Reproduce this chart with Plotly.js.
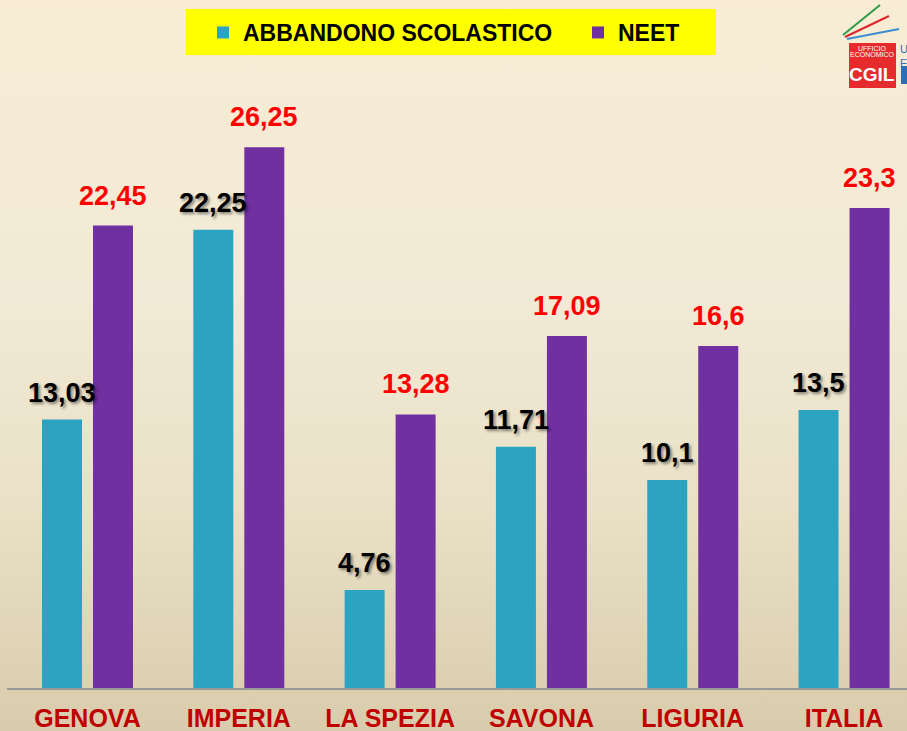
<!DOCTYPE html>
<html>
<head>
<meta charset="utf-8">
<script src="https://cdn.plot.ly/plotly-3.0.1.min.js"></script>
<style>
  html, body { margin: 0; padding: 0; }
  body { width: 907px; height: 731px; overflow: hidden;
    background: linear-gradient(to bottom, #F8ECD4 0%, #F2EAD6 40%, #E9E0C6 70%, #D9CCAC 100%); }
  #chart { width: 907px; height: 731px; }
</style>
</head>
<body>
<div id="chart"></div>
<script>
// ---- data ----
const categories = ["GENOVA", "IMPERIA", "LA SPEZIA", "SAVONA", "LIGURIA", "ITALIA"];
const abbandono = [13.03, 22.25, 4.76, 11.71, 10.1, 13.5];
const neet = [22.45, 26.25, 13.28, 17.09, 16.6, 23.3];
const seriesNames = ["ABBANDONO SCOLASTICO", "NEET"];

// ---- layout helpers (pixel -> paper) ----
const W = 907, H = 731, ML = 7, MB = 43, MT = 0, MR = 0;
const PW = W - ML - MR, PH = H - MT - MB;
const px = x => (x - ML) / PW;
const py = y => (H - MB - y) / PH;

const fmt = v => String(v).replace('.', ',');
const labelFont = (c, sh) => ({family: "Liberation Sans, Arial, sans-serif", size: 27, weight: "bold", color: c, shadow: sh});
const legendFont = {family: "Liberation Sans, Arial, sans-serif", size: 23, weight: "bold", color: "#000000"};

const traces = [
  {type: "bar", name: seriesNames[0], x: categories, y: abbandono,
   marker: {color: "#2CA3C1"}, hoverinfo: "skip", legend: "legend"},
  {type: "bar", name: seriesNames[1], x: categories, y: neet,
   marker: {color: "#7030A0"}, hoverinfo: "skip", legend: "legend2"}
];

const annotations = [];
categories.forEach((c, i) => {
  annotations.push({x: c, y: abbandono[i], xref: "x", yref: "y", text: fmt(abbandono[i]),
    showarrow: false, xshift: -25.5, yshift: 27, yanchor: "middle",
    font: labelFont("#000000", "2px 2px 3px rgba(0,0,0,0.45)")});
  annotations.push({x: c, y: neet[i], xref: "x", yref: "y", text: fmt(neet[i]),
    showarrow: false, xshift: 25.5, yshift: 30, yanchor: "middle",
    font: labelFont("#FF0000", "none")});
});

// logo texts
annotations.push({xref: "paper", yref: "paper", x: px(872), y: py(48), text: "UFFICIO",
  showarrow: false, font: {family: "Liberation Sans, sans-serif", size: 7, color: "#ffffff"}, xanchor: "center", yanchor: "middle"});
annotations.push({xref: "paper", yref: "paper", x: px(872), y: py(54), text: "ECONOMICO",
  showarrow: false, font: {family: "Liberation Sans, sans-serif", size: 7, color: "#ffffff"}, xanchor: "center", yanchor: "middle"});
annotations.push({xref: "paper", yref: "paper", x: px(872), y: py(75), text: "CGIL",
  showarrow: false, font: {family: "Liberation Sans, sans-serif", size: 19, weight: "bold", color: "#ffffff"}, xanchor: "center", yanchor: "middle"});
annotations.push({xref: "paper", yref: "paper", x: px(898), y: py(56), text: "U<br>E",
  showarrow: false, font: {family: "Liberation Sans, sans-serif", size: 11, color: "#2F6DB5"}, xanchor: "left", yanchor: "middle", align: "left"});

const shapes = [
  {type: "rect", xref: "paper", yref: "paper", x0: px(186), x1: px(716), y0: py(55), y1: py(9),
   fillcolor: "#FFFF00", line: {width: 0}, layer: "below"},
  {type: "rect", xref: "paper", yref: "paper", x0: px(849), x1: px(896), y0: py(88), y1: py(43),
   fillcolor: "#E52B2B", line: {width: 0}},
  {type: "rect", xref: "paper", yref: "paper", x0: px(901), x1: px(908), y0: py(84), y1: py(66),
   fillcolor: "#2F6DB5", line: {width: 0}},
  {type: "line", xref: "paper", yref: "paper", x0: px(843), y0: py(35), x1: px(880), y1: py(5),
   line: {color: "#2E9B4A", width: 2}},
  {type: "line", xref: "paper", yref: "paper", x0: px(845), y0: py(37), x1: px(889), y1: py(16),
   line: {color: "#E0262B", width: 2}},
  {type: "line", xref: "paper", yref: "paper", x0: px(847), y0: py(39), x1: px(899), y1: py(29),
   line: {color: "#3C8DD0", width: 2}}
];

const layout = {
  width: W, height: H,
  margin: {l: ML, r: MR, t: MT, b: MB, pad: 0, autoexpand: false},
  paper_bgcolor: "rgba(0,0,0,0)", plot_bgcolor: "rgba(0,0,0,0)",
  barmode: "group", bargap: 0.326, bargroupgap: 0.2157,
  separators: ",.",
  showlegend: true,
  legend: {orientation: "h", x: px(203), xanchor: "left", y: py(32.5), yanchor: "middle",
    bgcolor: "rgba(0,0,0,0)", borderwidth: 0, font: legendFont},
  legend2: {orientation: "h", x: px(578), xanchor: "left", y: py(32.5), yanchor: "middle",
    bgcolor: "rgba(0,0,0,0)", borderwidth: 0, font: legendFont},
  xaxis: {type: "category", range: [-0.532, 5.416], showgrid: false, zeroline: false,
    showline: true, linecolor: "#999999", linewidth: 2, ticks: "", ticklabelstandoff: 7,
    tickfont: {family: "Liberation Sans, Arial, sans-serif", size: 25, weight: "bold", color: "#C00000"},
    fixedrange: true},
  yaxis: {range: [0, 33.4], showgrid: false, zeroline: false, showline: false,
    showticklabels: false, ticks: "", fixedrange: true},
  annotations: annotations,
  shapes: shapes
};

Plotly.newPlot("chart", traces, layout, {displayModeBar: false, staticPlot: true});
</script>
</body>
</html>
